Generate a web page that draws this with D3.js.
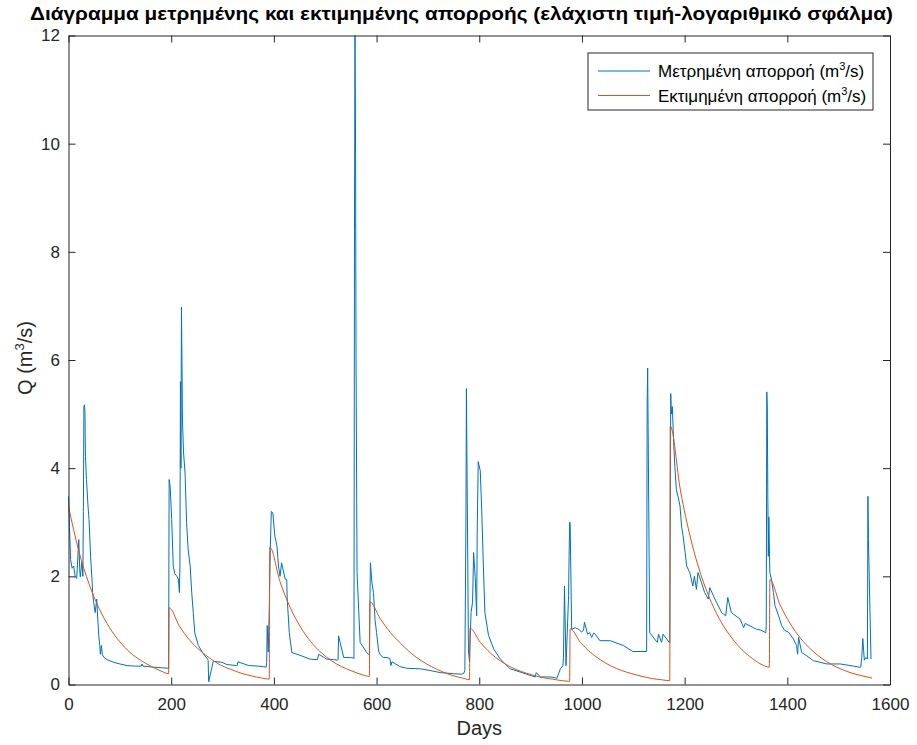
<!DOCTYPE html>
<html>
<head>
<meta charset="utf-8">
<script src="https://cdn.jsdelivr.net/npm/d3@7"></script>
<style>
  body { margin: 0; background: #fff; }
  svg { font-family: "Liberation Sans", Arial, sans-serif; }
</style>
</head>
<body>
<svg id="chart" width="917" height="745"></svg>
<script>
var measuredDays = [0,2,4,7,10,13,16,20,22,23,26,28,29,30,31,32,33,35,38,40,43,46,47,49,52,55,57,59,61,62,64,66,69,75,88,100,114,130,142,143,145,166,180,194,
  195,196,198,201,204,207,211,214,216,217,218,219,220,222,224,227,230,233,237,240,243,246,253,263,271,272,273,282,299,308,327,328,330,351,369,380,385,
  386,387,389,391,393,395,398,402,406,409,412,415,422,425,426,430,435,451,470,484,485,487,503,516,524,525,526,536,549,555,
  556,557,558,559,560,562,568,581,585,586,588,591,594,597,600,604,607,613,620,626,628,630,646,659,685,704,724,750,766,770,
  772,774,775,779,781,784,787,789,792,795,796,798,802,805,808,811,818,828,841,860,880,899,909,911,919,938,950,951,958,963,964,966,969,974,975,
  976,977,980,987,994,999,1003,1005,1011,1015,1019,1023,1026,1035,1055,1081,1099,1125,1126,1127,1128,1132,1144,1147,1149,1155,1158,1170,
  1171,1173,1174,1176,1179,1181,1184,1187,1191,1194,1197,1201,1204,1210,1213,1216,1219,1223,1226,1233,1239,1246,1249,1256,1262,1269,1272,1280,1284,1291,1308,1315,1318,1340,1347,1356,1358,
  1359,1360,1361,1362,1363,1364,1366,1369,1373,1376,1383,1389,1395,1402,1412,1418,1420,1422,1428,1438,1451,1477,1503,1529,1540,1543,1545,1547,1550,1553,1556,1557,1558,1563];
var measuredQ = [3.48,2.9,2.31,2.15,2.19,2.0,1.96,2.68,2.1,1.99,2.26,2.0,3.2,5.14,5.17,5.04,4.22,3.79,3.3,3.05,2.37,1.9,1.7,1.52,1.33,1.58,1.21,0.9,0.72,0.56,0.72,0.55,0.5,0.46,0.41,0.38,0.35,0.34,0.34,0.38,0.34,0.32,0.31,0.3,
  0.3,3.79,3.66,3.05,2.19,2.05,2.0,1.95,1.7,2.19,5.6,4.0,6.98,4.89,4.3,3.91,2.99,2.5,2.19,1.7,1.33,0.95,0.72,0.56,0.47,0.44,0.05,0.43,0.41,0.37,0.35,0.34,0.42,0.35,0.34,0.33,0.32,
  0.41,1.09,0.6,1.38,2.5,3.2,3.17,2.74,2.56,2.19,2.0,2.25,1.95,1.94,1.58,0.96,0.59,0.54,0.47,0.46,0.46,0.56,0.47,0.46,0.45,0.46,0.9,0.5,0.5,0.49,0.48,
  8.4,12.0,10.2,6.1,2.07,0.78,0.59,0.55,0.55,2.25,1.88,1.7,1.2,0.96,0.62,0.55,0.5,0.5,0.48,0.35,0.42,0.33,0.3,0.29,0.26,0.22,0.2,0.19,0.21,0.26,
  2.93,5.47,0.62,0.42,1.33,1.52,2.44,2.0,1.27,2.8,4.12,3.95,3.17,2.19,1.33,0.91,0.66,0.47,0.29,0.23,0.17,0.14,0.22,0.14,0.14,0.12,0.11,0.29,0.35,0.5,1.82,0.35,1.64,2.37,3.0,
  2.99,1.02,1.05,1.02,0.97,1.0,1.15,0.93,0.96,0.87,0.95,0.93,0.81,0.81,0.72,0.61,0.61,0.61,5.2,5.85,0.96,0.81,0.78,0.93,0.78,0.93,0.78,
  0.77,5.38,5.0,5.14,4.4,4.03,3.6,3.48,3.3,2.93,2.75,2.44,2.19,2.07,1.95,1.82,2.0,1.76,2.07,1.88,1.7,1.58,1.79,1.64,1.52,1.39,1.33,1.27,1.61,1.33,1.21,1.05,1.13,1.02,1.01,0.97,0.95,
  1.09,5.41,5.14,3.54,2.37,3.1,2.07,1.95,1.7,1.46,1.27,1.09,1.0,0.97,0.84,0.72,0.56,0.87,0.59,0.53,0.44,0.38,0.38,0.34,0.32,0.32,0.5,0.85,0.45,0.5,0.47,3.48,2.68,0.47,0.41];

// estimated runoff (day, m3/s)
var estimatedDays = [0,20,40,60,80,100,120,140,160,180,195,
  196,216,236,256,276,296,316,336,356,376,391,
  392,412,432,452,472,492,512,532,552,572,586,
  587,607,627,647,667,687,707,727,747,767,781,
  782,802,822,842,862,882,902,922,942,962,976,
  977,997,1017,1037,1057,1077,1097,1117,1137,1157,1171,
  1172,1192,1212,1232,1252,1272,1292,1312,1332,1352,1365,
  1366,1386,1406,1426,1446,1466,1486,1506,1526,1546,1565];
var estimatedQ = [3.29,2.47,1.86,1.4,1.05,0.79,0.59,0.45,0.34,0.25,0.2,
  1.42,1.08,0.82,0.63,0.48,0.36,0.28,0.21,0.16,0.12,0.1,
  2.54,1.9,1.42,1.06,0.79,0.59,0.44,0.33,0.25,0.18,0.15,
  1.53,1.22,0.96,0.76,0.58,0.44,0.33,0.24,0.17,0.12,0.09,
  1.04,0.78,0.58,0.43,0.32,0.24,0.18,0.13,0.1,0.07,0.06,
  1.03,0.78,0.59,0.45,0.34,0.26,0.2,0.15,0.11,0.085,0.07,
  4.78,3.58,2.69,2.02,1.52,1.14,0.86,0.64,0.48,0.36,0.32,
  1.94,1.47,1.12,0.85,0.65,0.49,0.37,0.28,0.21,0.16,0.12];

var xTicks = [0,200,400,600,800,1000,1200,1400,1600];
var yTicks = [0,2,4,6,8,10,12];
var titleText = "Διάγραμμα μετρημένης και εκτιμημένης απορροής (ελάχιστη τιμή-λογαριθμικό σφάλμα)";
var seriesNames = ["Μετρημένη απορροή (m", "Εκτιμημένη απορροή (m"];
var seriesColors = ["#0072BD", "#D95319"];

(function() {
  var svg = d3.select("#chart");
  var plotLeft = 68.5, plotRight = 890, plotTop = 35.5, plotBottom = 684.5;
  var axisColor = "#262626";

  var x = d3.scaleLinear().domain([0, 1600]).range([plotLeft, plotRight]);
  var y = d3.scaleLinear().domain([0, 12]).range([plotBottom, plotTop]);

  var measured = measuredDays.map(function(d, i) { return [d, measuredQ[i]]; });
  var estimated = estimatedDays.map(function(d, i) { return [d, estimatedQ[i]]; });

  var line = d3.line().x(function(d) { return x(d[0]); }).y(function(d) { return y(d[1]); });
  var smooth = d3.line().x(function(d) { return x(d[0]); }).y(function(d) { return y(d[1]); }).curve(d3.curveMonotoneX);

  svg.append("path").datum(measured)
    .attr("d", line).attr("fill", "none")
    .attr("stroke", seriesColors[0]).attr("stroke-width", 1);
  svg.append("path").datum(estimated)
    .attr("d", smooth).attr("fill", "none")
    .attr("stroke", seriesColors[1]).attr("stroke-width", 1);

  // axes, ticks pointing inward like matlab
  function styleAxis(g) {
    g.attr("font-family", null);
    g.selectAll("path.domain").attr("stroke", axisColor).attr("stroke-width", 1);
    g.selectAll(".tick line").attr("stroke", axisColor).attr("stroke-width", 1);
    g.selectAll(".tick text").attr("fill", axisColor).attr("font-size", 17);
  }
  var fmt = d3.format("d");
  svg.append("g").attr("transform", "translate(0," + plotBottom + ")")
    .call(d3.axisBottom(x).tickValues(xTicks).tickFormat(fmt).tickSizeInner(-7).tickSizeOuter(0).tickPadding(13.5))
    .call(styleAxis);
  svg.append("g").attr("transform", "translate(0," + plotTop + ")")
    .call(d3.axisTop(x).tickValues(xTicks).tickSizeInner(-7).tickSizeOuter(0).tickFormat(""))
    .call(styleAxis);
  svg.append("g").attr("transform", "translate(" + plotLeft + ",0)")
    .call(d3.axisLeft(y).tickValues(yTicks).tickFormat(fmt).tickSizeInner(-7).tickSizeOuter(0).tickPadding(8.5))
    .call(styleAxis);
  svg.append("g").attr("transform", "translate(" + plotRight + ",0)")
    .call(d3.axisRight(y).tickValues(yTicks).tickSizeInner(-7).tickSizeOuter(0).tickFormat(""))
    .call(styleAxis);

  // title
  svg.append("text")
    .attr("x", 461.5).attr("y", 20)
    .attr("text-anchor", "middle")
    .attr("font-weight", "bold").attr("font-size", 18)
    .attr("textLength", 863).attr("lengthAdjust", "spacingAndGlyphs")
    .attr("fill", "#000")
    .text(titleText);

  // axis labels
  svg.append("text")
    .attr("x", (plotLeft + plotRight) / 2).attr("y", 735)
    .attr("text-anchor", "middle").attr("font-size", 20).attr("fill", axisColor)
    .text("Days");

  var ylab = svg.append("text")
    .attr("transform", "translate(32,358) rotate(-90)")
    .attr("text-anchor", "middle").attr("font-size", 20).attr("fill", axisColor);
  ylab.append("tspan").text("Q (m");
  ylab.append("tspan").attr("dy", -8).attr("font-size", 13).text("3");
  ylab.append("tspan").attr("dy", 8).text("/s)");

  // legend
  var lg = svg.append("g");
  lg.append("rect")
    .attr("x", 588).attr("y", 53).attr("width", 285).attr("height", 57)
    .attr("fill", "#fff").attr("stroke", axisColor).attr("stroke-width", 1);
  seriesNames.forEach(function(name, i) {
    var ly = 71 + i * 24.5;
    lg.append("line")
      .attr("x1", 598).attr("x2", 650).attr("y1", ly).attr("y2", ly)
      .attr("stroke", seriesColors[i]).attr("stroke-width", 1);
    var t = lg.append("text")
      .attr("x", 658).attr("y", ly + 6)
      .attr("font-size", 17).attr("fill", "#000");
    t.append("tspan").text(name);
    t.append("tspan").attr("dy", -7).attr("font-size", 11).text("3");
    t.append("tspan").attr("dy", 7).text("/s)");
  });
})();
</script>
</body>
</html>
